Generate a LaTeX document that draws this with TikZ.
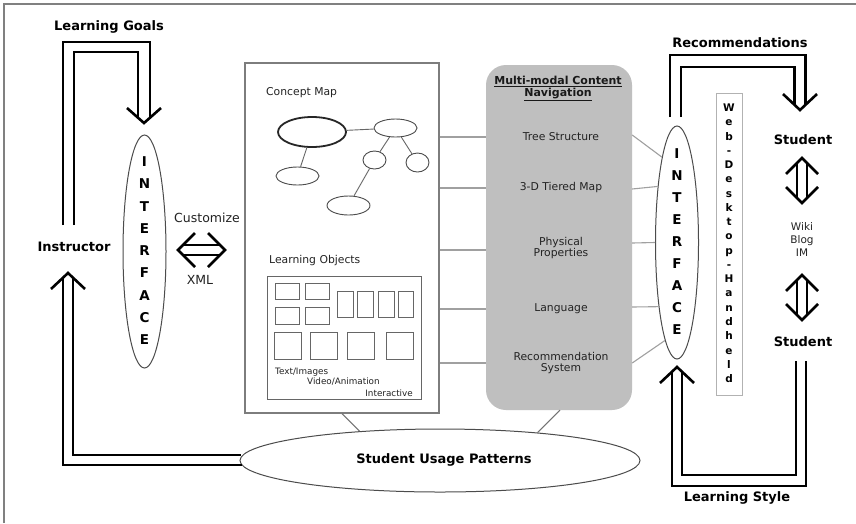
\documentclass[tikz,border=0pt]{standalone}
\usepackage{fontspec}
\setmainfont{DejaVu Sans}
\usetikzlibrary{shapes.geometric}
\definecolor{navgray}{RGB}{191,191,191}
\definecolor{linegray}{RGB}{160,160,160}
\definecolor{boxgray}{RGB}{125,125,125}
\definecolor{txtgray}{RGB}{35,35,35}
\begin{document}
\begin{tikzpicture}[x=1pt,y=-1pt,
  dbl/.style={line width=2.6pt, line join=miter, line cap=butt},
  thinln/.style={draw=linegray, line width=1.1pt},
  lbl/.style={font=\fontsize{13}{15}\selectfont\bfseries, inner sep=0},
  letter/.style={font=\fontsize{13.5}{15}\selectfont\bfseries, inner sep=0, anchor=base},
  wdletter/.style={font=\fontsize{10.5}{12}\selectfont\bfseries, inner sep=0, anchor=base},
  reg/.style={font=\fontsize{10.8}{11.5}\selectfont, text=txtgray, inner sep=0, align=center},
  midtxt/.style={font=\fontsize{12.5}{14}\selectfont, text=txtgray, inner sep=0},
  smalltxt/.style={font=\fontsize{8.8}{10}\selectfont, text=txtgray, inner sep=0},
  cmell/.style={ellipse, draw=black!70, line width=0.9pt, inner sep=0},
  cmline/.style={draw=black!60, line width=0.9pt},
  lobj/.style={draw=black!60, line width=0.9pt},
  bigell/.style={ellipse, draw=black!70, line width=1pt, inner sep=0, minimum width=43pt, minimum height=233pt}
]
\useasboundingbox (0,0) rectangle (856,523);
\fill[white] (0,0) rectangle (856,523);
\draw[gray, line width=1.5pt] (4,523) -- (4,4) -- (856,4);

% ---------- left side ----------
\node[bigell] (ifL) at (144.5,251.5) {};
\foreach \ch [count=\i from 0] in {I,N,T,E,R,F,A,C,E}
  \node[letter] (ifLl\i) at (144.5,166.7+22.25*\i) {\ch};

\node[lbl] (lg) at (109,27) {Learning Goals};
\node[lbl] (instr) at (74,247) {Instructor};

% top-left double arrow
\coordinate (tlA) at (63,225);
\coordinate (tlB) at (74,225);
\draw[dbl] (tlA) -- (63,42) -- (150,42) -- (150,117.7);
\draw[dbl] (tlB) -- (74,52) -- (138,52) -- (138,117.7);
\draw[dbl] (127,108) -- (144,123) -- (161,108);

% Customize / XML
\node[midtxt] (cust) at (207,218) {Customize};
\node[midtxt] (xml) at (200,280) {XML};
\draw[dbl] (195,233) -- (178,250) -- (195,267);
\draw[dbl] (208,233) -- (225,250) -- (208,267);
\draw[dbl] (183,245) -- (220,245);
\draw[dbl] (183,255) -- (220,255);

% ---------- middle box ----------
\node[draw=boxgray, line width=1.2pt, minimum width=194pt, minimum height=350pt, inner sep=0] (mid) at (342,238) {};
\node[midtxt, font=\fontsize{10.8}{12}\selectfont, anchor=west] (cmt) at (266,93) {Concept Map};

\node[cmell, line width=1.8pt, draw=black!85, minimum width=68pt, minimum height=30pt] (c1) at (312,132) {};
\node[cmell, minimum width=43pt, minimum height=18pt] (c2) at (395.5,128) {};
\node[cmell, minimum width=23pt, minimum height=18pt] (c3) at (374.5,160) {};
\node[cmell, minimum width=23pt, minimum height=19pt] (c4) at (417.5,162.5) {};
\node[cmell, minimum width=43pt, minimum height=18pt] (c5) at (297.5,176) {};
\node[cmell, minimum width=43pt, minimum height=19pt] (c6) at (348.5,205.5) {};
\draw[cmline] (c1) -- (c2);
\draw[cmline] (c2) -- (c3);
\draw[cmline] (c2) -- (c4);
\draw[cmline] (c1) -- (c5);
\draw[cmline] (c3) -- (c6);

\node[midtxt, font=\fontsize{10.8}{12}\selectfont, anchor=west] (lot) at (269,261) {Learning Objects};
\node[draw=black!60, line width=1pt, minimum width=154pt, minimum height=123pt, inner sep=0] (lobox) at (344,337.5) {};
\draw[lobj] (275,283) rectangle (299,299);
\draw[lobj] (305,283) rectangle (329,299);
\draw[lobj] (275,307) rectangle (299,324);
\draw[lobj] (305,307) rectangle (329,324);
\draw[lobj] (337,291) rectangle (353,317);
\draw[lobj] (357,291) rectangle (373,317);
\draw[lobj] (378,291) rectangle (394,317);
\draw[lobj] (398,291) rectangle (413,317);
\draw[lobj] (274,332) rectangle (301,359);
\draw[lobj] (310,332) rectangle (337,359);
\draw[lobj] (347,332) rectangle (374,359);
\draw[lobj] (386,332) rectangle (413,359);
\node[smalltxt, anchor=west] (ti) at (275,372) {Text/Images};
\node[smalltxt, anchor=west] (va) at (307,382) {Video/Animation};
\node[smalltxt, anchor=east] (ia) at (413,393) {Interactive};

% ---------- navigation box ----------
\node[fill=navgray, rounded corners=20pt, minimum width=146pt, minimum height=345pt, inner sep=0] (nav) at (559,237.5) {};
\node[font=\fontsize{11}{11.5}\selectfont\bfseries, align=center, inner sep=0, text=black!90] (ntitle) at (558,88.5) {\underline{Multi-modal Content}\\\underline{Navigation}};
\node[reg] (n1) at (561,137) {Tree Structure};
\node[reg] (n2) at (561,188) {3-D Tiered Map};
\node[reg] (n3) at (561,248) {Physical\\Properties};
\node[reg] (n4) at (561,309) {Language};
\node[reg] (n5) at (561,363) {Recommendation\\System};

\foreach \y in {137,188,250,309,363}
  \draw[thinln] (mid.east |- 0,\y) -- (nav.west |- 0,\y);

% ---------- right interface ----------
\node[bigell] (ifR) at (677,242.5) {};
\foreach \ch [count=\i from 0] in {I,N,T,E,R,F,A,C,E}
  \node[letter] (ifRl\i) at (677,158.7+22*\i) {\ch};

\draw[thinln] (nav.east |- 0,135) -- (ifR.100.4);
\draw[thinln] (nav.east |- 0,189) -- (ifR.109.6);
\draw[thinln] (nav.east |- 0,243) -- (ifR.180);
\draw[thinln] (nav.east |- 0,307) -- (ifR.254.3);
\draw[thinln] (nav.east |- 0,363) -- (ifR.263.1);

\node[draw=black!30, line width=1pt, minimum width=26pt, minimum height=302pt, inner sep=0] (wd) at (729,244) {};
\foreach \ch [count=\i from 0] in {W,e,b,-,D,e,s,k,t,o,p,-,H,a,n,d,h,e,l,d}
  \node[wdletter] (wdl\i) at (729,111.6+14.26*\i) {\ch};

\node[lbl] (rec) at (740,43) {Recommendations};
\node[lbl] (st1) at (803,140) {Student};
\node[font=\fontsize{10.5}{13}\selectfont, text=txtgray, align=center, inner sep=0] (wiki) at (802,240) {Wiki\\Blog\\IM};
\node[lbl] (st2) at (803,342) {Student};
\node[lbl] (ls) at (737,498) {Learning Style};

% top-right double arrow
\coordinate (trA) at (670,117);
\coordinate (trB) at (681,117);
\draw[dbl] (trA) -- (670,55) -- (805.5,55) -- (805.5,104.8);
\draw[dbl] (trB) -- (681,67) -- (794.5,67) -- (794.5,104.8);
\draw[dbl] (783,94) -- (800,110) -- (817,94);

% student exchange arrows
\draw[dbl] (786,174) -- (802,158) -- (818,174);
\draw[dbl] (786,187) -- (802,203) -- (818,187);
\draw[dbl] (797,163) -- (797,198);
\draw[dbl] (807,163) -- (807,198);
\draw[dbl] (786,291) -- (802,275) -- (818,291);
\draw[dbl] (786,304) -- (802,320) -- (818,304);
\draw[dbl] (797,280) -- (797,315);
\draw[dbl] (807,280) -- (807,315);

% bottom-right double arrow
\coordinate (brA) at (796,361);
\coordinate (brB) at (806,361);
\draw[dbl] (brA) -- (796,475) -- (682,475) -- (682,371.7);
\draw[dbl] (brB) -- (806,486) -- (672,486) -- (672,371.7);
\draw[dbl] (660,383) -- (677,367) -- (694,383);

% ---------- student usage patterns ----------
\node[ellipse, draw=black!70, line width=1pt, minimum width=400pt, minimum height=63pt, inner sep=0] (sup) at (440,460.5) {};
\node[lbl] (supt) at (444,460) {Student Usage Patterns};
\draw[thinln, draw=black!55] (mid.south -| 342,0) -- (sup.160);
\draw[thinln, draw=black!55] (nav.south -| 560,0) -- (sup.16);

\draw[dbl] (241.5,465) -- (63,465) -- (63,277.7);
\draw[dbl] (240.5,455) -- (73,455) -- (73,277.7);
\draw[dbl] (51,289) -- (68,273) -- (85,289);
\end{tikzpicture}
\end{document}
